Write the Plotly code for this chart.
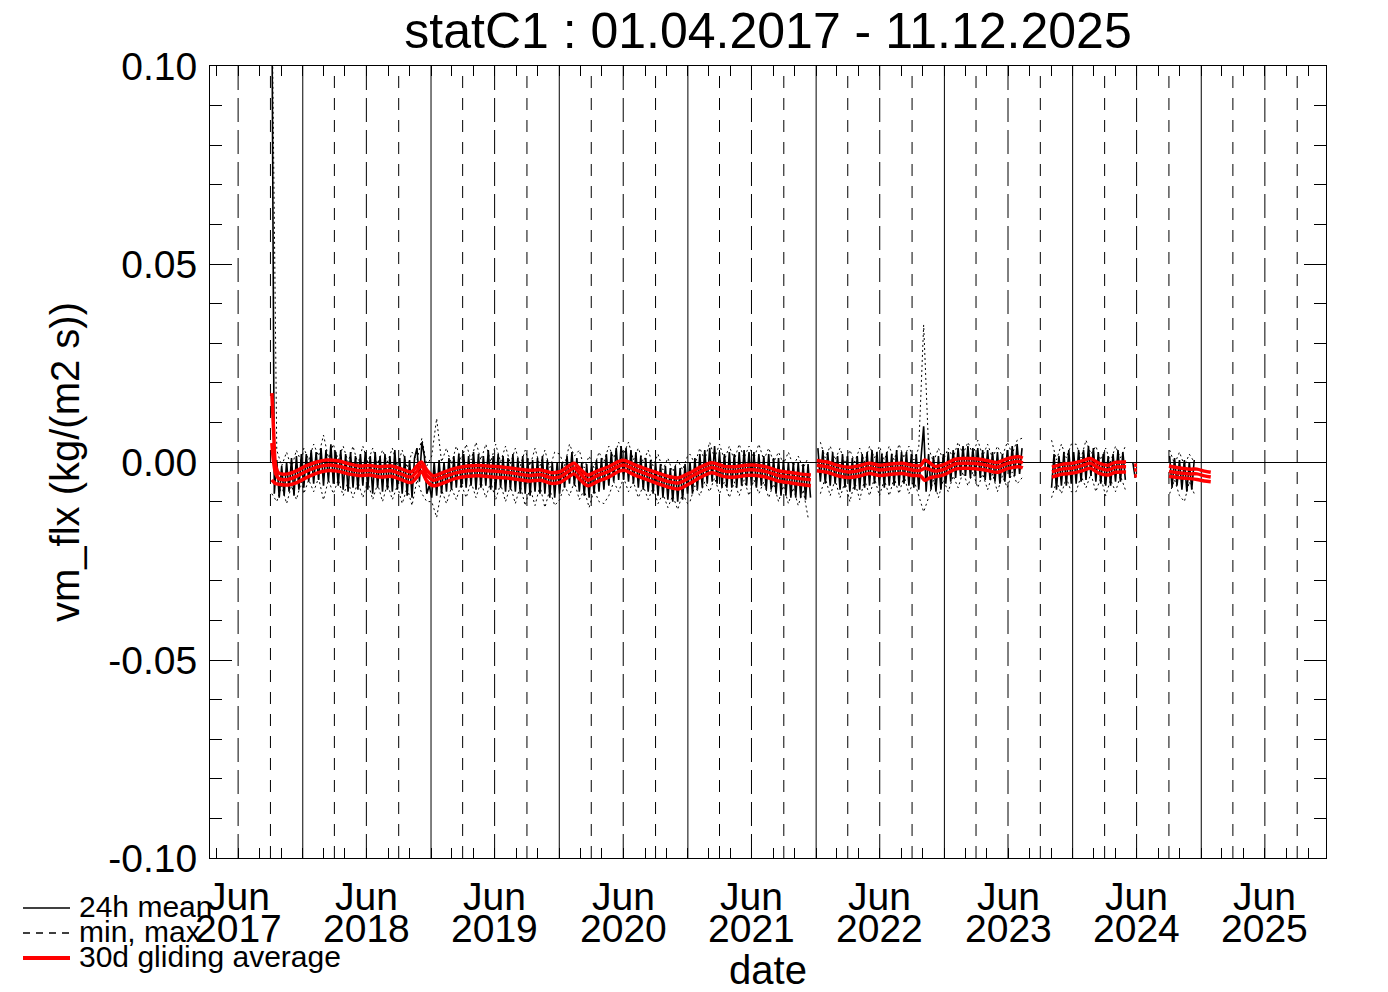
import pandas as pd
import plotly.graph_objects as go

# ---------------- data (all values in units of 1e-3 kg/(m2 s)) ----------------
# 24h mean, weekly samples (7-day steps from each block start)
mean_start = ["2017-10-05", "2018-01-04", "2019-01-03", "2020-01-02",
              "2021-01-07", "2022-01-06", "2023-01-05", "2024-01-04"]
mean_2017 = [120, -8, 0.5, -9, -1, -8.5, 0, -7.5, 1, -8.5, 1.5, -7, 2]
mean_2018 = [-6.5, 2, -5, 3, -5.5, 2.5, -4.5, 3.5, -6, 3, -5, 4.5, -5.5,
             2.5, -6, 3, -7, 2, -7.5, 2.5, -6.5, 1.5, -7, 2, -6, 2.5,
             -7, 1.5, -8, 2.5, -6.5, 1.5, -7.5, 2, -7, 1.5, -7.5, 3, -7,
             1, -8, 1.5, -8.5, 0.5, -9, 1, 3.5, -5, 5, 1.5, -8, -6]
mean_2019 = [-9, 0, -8.5, 0.5, -8, 0, -7.5, 1, -7, 1.5, -6.5, 2, -6.5,
             2, -6.5, 1.5, -6, 2.5, -7, 2, -6.5, 1.5, -6, 3, -7, 1.5,
             -7, 2, -6.5, 1.5, -7.5, 1, -7, 2, -7.5, 1, -8, 1.5, -8,
             1, -8.5, 0.5, -7.5, 1, -8, 1.5, -8, 0.5, -9, 0, -9, 0]
mean_2020 = [-8, 0, -6.5, 1.5, -5.5, 2.5, -6, 1, -7.5, 0, -8.5, -0.5, -9,
             0, -8, 0.5, -7.5, 1, -7, 2, -6, 2.5, -5, 3.5, -4.5, 4,
             -4.5, 3.5, -5, 3, -5.5, 2.5, -6.5, 1.5, -7, 1, -7.5, 0.5, -8,
             0, -8.5, -0.5, -9, -1, -9.5, -1.5, -10, -1, -10, -1.5, -9.5, -0.5, -8]
mean_2021 = [0, -8, 1, -7, 2, -6.5, 3, -5.5, 3.5, -5, 4, -5.5,
             2.5, -6.5, 2, -6.5, 2.5, -6.5, 2, -6.5, 2.5, -6, 3, -6, 2.5,
             -6, 2.5, -6.5, 2, -6, 1.5, -7, 2, -7, 1, -8, 1, -8.5, 0.5,
             -8.5, 0, -9, 0, -9, 0, -9, -0.5, -9.5, -0.5, -9, None, None]
mean_2022 = [3.5, -5, 3, -5.5, 2.5, -6, 2.5, -5.5, 1.5, -7, 2, -6.5, 1.5,
             -7.5, 1, -7, 1.5, -7, 2, -6.5, 2.5, -6, 3, -5.5, 2.5, -6,
             2, -6.5, 2.5, -6, 2, -6, 3, -6, 2.5, -5.5, 2.5, -6, 2,
             -6.5, 2, -7, 1.5, 9, -7.5, 2, -7, 1.5, -7.5, 1.5, -7, 2]
mean_2023 = [-5.5, 2.5, -5, 3, -4, 3.5, -3.5, 4, -3.5, 4, -4, 3.5, -3.5,
             3.5, -4, 3, -4.5, 3, -4.5, 2.5, -5, 2.5, -5.5, 2, -5, 3,
             -4, 4, -3.5, 4.5, -3, 3.5, None, None, None,
             None, None, None, None, None, None, None, None,
             -6.5, 2, -7, 1.5, -6, 2.5, -6, 3, -5.5]
mean_2024 = [2.5, -5.5, 3, -5, 3, -4.5, 4, -3.5, 3.5, -5, 2.5, -5.5, 2,
             -6, 1.5, -6, 2, -5, 3, -5, 2.5, -4.5, None, None, 0, -4,
             None, None, None, None, None, None, None, None, None,
             None, None, None, None, 1.5, -6.5, 1, -6, 0.5,
             -7, 0.5, -7.5, 0, -7, 0.5, None, None]

# daily max / min, 2-weekly samples
ext_start = ["2017-10-05", "2018-01-04", "2019-01-03", "2020-01-02",
             "2021-01-07", "2022-01-13", "2023-01-12", "2024-01-11"]
max_2017 = [120, 3, -1, 2.5, -1.5, 3, 0]
min_2017 = [-8, -10, -6, -10.5, -6, -9.5, -5]
max_2018 = [3.5, 0.5, 4.5, 1.5, 6.8, 1, 4.5, 0.5, 4, 0, 4, -0.5, 4, 0, 3.5,
            -0.5, 3, 0, 3.5, -1, 3, -1.5, 2.5, 0.5, 6, -1]
min_2018 = [-8, -4.5, -7.5, -4, -9.6, -4.5, -8, -4.5, -8.5, -5, -9, -5, -9,
            -5, -9.5, -5.5, -10, -5.5, -9.5, -6, -10.5, -6.5, -11, -4.5, -8, -10]
max_2019 = [1.5, 11, 0, 3.5, -0.5, 4, 0.5, 4.5, 0.5, 5, 0.5, 4.5, 0, 4.5, 0,
            4, -0.5, 3.5, -1, 3, -1, 3.5, -1, 3, -1.5, 2.5]
min_2019 = [-10, -14, -7, -10.5, -6.5, -9.5, -5.5, -9, -5, -9, -5, -9, -5,
            -9.5, -5.5, -10, -6, -10.5, -6, -11, -6.5, -11, -6, -11.5, -7, -11]
max_2020 = [2, -1, 4.5, 1.5, 3, -1.5, 1.5, -1.5, 2.5, 0, 4, 1, 5, 2, 5, 0.5,
            3.5, 0, 3, -1, 2, -2, 1, -2.5, 0.5, -2, 1.5]
min_2020 = [-9.5, -6, -8.5, -5, -9.5, -7, -11.5, -7, -10, -10.5, -8.5, -5,
            -7.5, -4, -7.5, -5, -9, -6, -9.5, -6.5, -10.5, -8, -11.5, -8.5,
            -12, -8, -10.5]
max_2021 = [2, -0.5, 3.5, 0.5, 5, 1, 4.5, 0.5, 4, 0.5, 4.5, 1, 4, 1, 4.5,
            0.5, 3.5, 0, 2.5, -0.5, 2.5, -1, 1.5, -1.5, 1, None]
min_2021 = [-10, -6, -8.5, -5, -7.5, -4, -8, -5, -9, -5, -8.5, -4.5, -8.5,
            -4.5, -8, -5, -9, -5.5, -10, -6, -10.5, -6.5, -11, -7, -14, None]
max_2022 = [5, 1, 4, 0.5, 3.5, -0.5, 3, 0, 3.5, 0, 4, 1, 4, 0.5, 4, 0.5, 4.5,
            1, 4, 0.5, 3.5, 34.6, 3.5, 0, 3.5, 0.5]
min_2022 = [-8, -4, -8.5, -4.5, -9, -5, -10, -5, -9.5, -4.5, -8.5, -4, -8.5,
            -4.5, -8.5, -4, -8, -3.5, -8, -4.5, -8.5, -12.6, -9, -4.5, -9, -4.5]
max_2023 = [3.5, 1, 5, 2, 5, 2, 5.5, 1.5, 4.5, 1, 4, 1.5, 5, 2, 5.5, 6,
            None, None, None, None, None, 5.5, 0.5, 4.5, 1, 4.5]
min_2023 = [-7.5, -3.5, -6.5, -2.5, -6, -2.5, -6.5, -3, -7, -3, -7.5, -3.5,
            -6.5, -2.5, -5.5, -4, None, None, None, None, None, -9, -5, -8, -4, -7.5]
max_2024 = [4.5, 1, 5.5, 2, 4, 0.5, 3.5, 0, 4, 1, 4, None, 0.5,
            None, None, None, None, None, None, 3, -0.5, 2.5, -1, 2, 0, None]
min_2024 = [-7.5, -3.5, -6.5, -3, -7.5, -4, -8.5, -4.5, -7.5, -3.5, -7, None, -5,
            None, None, None, None, None, None, -8, -4.5, -8.5, -10, -5, -8, None]

# 30-day gliding averages (of daily max, mean and min)
red_dates = [
    "2017-10-05", "2017-10-10", "2017-10-16", "2017-10-25", "2017-11-20", "2017-12-15",
    "2018-01-10", "2018-02-10", "2018-03-10", "2018-04-10", "2018-05-10", "2018-06-10",
    "2018-07-10", "2018-08-10", "2018-09-10", "2018-10-10", "2018-11-05", "2018-11-22",
    "2018-12-05", "2018-12-20",
    "2019-01-08", "2019-02-05", "2019-03-10", "2019-04-15", "2019-05-20", "2019-06-25",
    "2019-08-01", "2019-09-05", "2019-10-10", "2019-11-10", "2019-12-10",
    "2020-01-05", "2020-01-28", "2020-02-12", "2020-03-01", "2020-03-22", "2020-04-20",
    "2020-05-20", "2020-06-20", "2020-07-05", "2020-08-05", "2020-09-05", "2020-10-05",
    "2020-11-05", "2020-12-05",
    "2021-01-05", "2021-02-05", "2021-03-10", "2021-04-15", "2021-05-15", "2021-06-15",
    "2021-07-15", "2021-08-15", "2021-09-15", "2021-10-15", "2021-11-15", "2021-12-17",
    "2021-12-26",
    "2022-01-03", "2022-02-01", "2022-03-01", "2022-04-01", "2022-05-01", "2022-06-01",
    "2022-07-01", "2022-08-01", "2022-09-01", "2022-10-01", "2022-10-25", "2022-11-06",
    "2022-11-20", "2022-12-05",
    "2023-01-01", "2023-02-01", "2023-03-01", "2023-04-01", "2023-05-01", "2023-06-01",
    "2023-07-01", "2023-08-01", "2023-08-12", "2023-08-20",
    "2023-11-03", "2023-12-01",
    "2024-01-01", "2024-02-01", "2024-02-20", "2024-03-15", "2024-04-10", "2024-05-01",
    "2024-06-01", "2024-06-10", "2024-06-24", "2024-07-02", "2024-07-10",
    "2024-10-01", "2024-11-01", "2024-12-01", "2024-12-20", "2025-01-10", "2025-01-28"]
red_max_avg = [
    17.4, 8, -1, -2.8, -3, -2.2,
    -1, 0, 0.5, 0.3, -0.4, -1, -0.9, -1.2, -1, -1.8, -2.5, -1, 0, -2,
    -3.5, -2.6, -1.6, -1, -0.9, -1.1, -1.4, -1.8, -2.1, -2, -2.7,
    -2.4, -1, -0.3, -1.8, -3.3, -2.2, -1.2, 0.2, 0.4, -0.8, -1.8, -2.7, -3.6, -4,
    -2.8, -1.3, -0.2, -1.1, -1.2, -0.8, -0.8, -1.3, -2.2, -2.6, -3, -3.3, None,
    0.4, 0, -0.8, -1.3, -1, -0.3, -0.8, -0.5, -0.3, -0.8, -0.9, 0.5, -0.2, -1.1,
    -0.6, 0.7, 0.9, 0.8, 0.4, -0.1, 0.9, 1.3, 1, None,
    -1.3, -0.6,
    -0.3, 0.4, 0.9, -0.3, -0.8, -0.1, 0, None, -0.8, -0.8, None,
    -1, -1.5, -1.8, -1.8, -2.3, -2.6]
red_mean_avg = [
    4.8, 0, -3, -4.2, -4.4, -3.6,
    -2.4, -1.3, -0.8, -1, -1.7, -2.2, -2.1, -2.4, -2.2, -3.1, -3.8, -2.3, -1, -3.3,
    -4.6, -3.8, -2.8, -2.2, -2.1, -2.3, -2.6, -3, -3.4, -3.2, -4,
    -3.7, -2.3, -1.5, -3, -4.6, -3.4, -2.4, -1, -0.8, -2, -3, -4, -4.9, -5.3,
    -4, -2.5, -1.4, -2.3, -2.4, -2, -2, -2.5, -3.4, -3.8, -4.2, -4.5, None,
    -0.8, -1.2, -2, -2.5, -2.2, -1.5, -2, -1.7, -1.5, -2, -2.1, -1.6, -1.9, -2.3,
    -1.8, -0.5, -0.3, -0.4, -0.8, -1.3, -0.3, 0.1, -0.2, None,
    -2.5, -1.8,
    -1.5, -0.8, -0.3, -1.5, -2, -1.3, -1.2, None, -2, -2, None,
    -2.4, -2.8, -3, -3, -3.5, -3.8]
red_min_avg = [
    -4.5, -5, -5.5, -5.6, -5.8, -5.2,
    -4, -2.8, -2.2, -2.3, -3, -3.4, -3.3, -3.8, -3.6, -4.5, -5.2, -3.8, -2.4, -4.8,
    -6, -5.3, -4.2, -3.6, -3.5, -3.8, -4, -4.4, -4.8, -4.6, -5.4,
    -5.1, -3.7, -3, -4.5, -6, -4.9, -3.8, -2.3, -2.1, -3.4, -4.4, -5.4, -6.3, -6.8,
    -5.5, -3.9, -2.7, -3.7, -3.8, -3.4, -3.4, -3.9, -4.8, -5.2, -5.6, -6, None,
    -2.2, -2.6, -3.4, -3.9, -3.6, -2.9, -3.4, -3.1, -2.9, -3.4, -3.5, -4.6, -4, -3.7,
    -3.2, -1.8, -1.6, -1.7, -2.1, -2.6, -1.6, -1.2, -1.5, None,
    -3.8, -3.1,
    -2.8, -2.1, -1.6, -2.8, -3.3, -2.6, -2.5, None, -3.5, -3.5, None,
    -3.6, -4, -4.2, -4.4, -4.8, -5]

tick_years = [2017, 2018, 2019, 2020, 2021, 2022, 2023, 2024, 2025]
y_tickvals = [-0.10, -0.05, 0.0, 0.05, 0.10]
y_ticktext = ["-0.10", "-0.05", "0.00", "0.05", "0.10"]
x_range = ["2017-04-12", "2025-12-22"]
SCALE = 1e-3


def build(starts, blocks, step):
    xs, ys = [], []
    for s, vals in zip(starts, blocks):
        d = pd.date_range(s, periods=len(vals), freq=step)
        xs += list(d)
        ys += [None if v is None else v * SCALE for v in vals]
    return xs, ys


mx, my = build(mean_start, [mean_2017, mean_2018, mean_2019, mean_2020,
                            mean_2021, mean_2022, mean_2023, mean_2024], "7D")
ax_, ay_ = build(ext_start, [max_2017, max_2018, max_2019, max_2020,
                             max_2021, max_2022, max_2023, max_2024], "14D")
nx_, ny_ = build(ext_start, [min_2017, min_2018, min_2019, min_2020,
                             min_2021, min_2022, min_2023, min_2024], "14D")
rd = pd.to_datetime(red_dates)


def sc(lst):
    return [None if v is None else v * SCALE for v in lst]


FONT = "Liberation Sans, Arial, Helvetica, sans-serif"
fig = go.Figure()
fig.add_trace(go.Scatter(x=ax_, y=ay_, mode="lines", name="max",
                         line=dict(color="black", width=1, dash="2px,3px")))
fig.add_trace(go.Scatter(x=nx_, y=ny_, mode="lines", name="min",
                         line=dict(color="black", width=1, dash="2px,3px")))
fig.add_trace(go.Scatter(x=mx, y=my, mode="lines", name="24h mean",
                         line=dict(color="black", width=1.6)))
for arr in (red_max_avg, red_mean_avg, red_min_avg):
    fig.add_trace(go.Scatter(x=rd, y=sc(arr), mode="lines",
                             line=dict(color="#ff0000", width=3.5,
                                       shape="spline", smoothing=0.8)))

# vertical reference lines: Jan 1 solid, Jul 1 long dash, Apr/Oct 1 short dash
lo, hi = pd.Timestamp(x_range[0]), pd.Timestamp(x_range[1])
shapes = []
for yr in range(2017, 2026):
    for md, dash in (("01-01", "solid"), ("04-01", "12px,10px"),
                     ("07-01", "24px,8px"), ("10-01", "12px,10px")):
        d = pd.Timestamp(f"{yr}-{md}")
        if lo < d < hi:
            shapes.append(dict(type="line", xref="x", yref="paper", x0=d, x1=d,
                               y0=0, y1=1, layer="below",
                               line=dict(color="black", width=1, dash=dash)))


def px_x(p):
    return (p - 210) / 1116.0


def px_y(p):
    return (858 - p) / 792.0


# legend drawn below the plot (IDL-style)
legend_items = [("24h mean", "solid", 1.3, "black", 908),
                ("min, max", "7px,6px", 1.3, "black", 933),
                ("30d gliding average", "solid", 4, "#ff0000", 958)]
annotations = []
for label, dash, w, col, py in legend_items:
    shapes.append(dict(type="line", xref="paper", yref="paper",
                       x0=px_x(23), x1=px_x(70), y0=px_y(py), y1=px_y(py),
                       line=dict(color=col, width=w, dash=dash)))
    annotations.append(dict(text=label, xref="paper", yref="paper",
                            x=px_x(77), y=px_y(py - 2), xanchor="left",
                            yanchor="middle", showarrow=False,
                            font=dict(size=30, family=FONT, color="black")))

# x tick labels ("Jun" / year) at the Jul-1 positions
for yr in tick_years:
    xd = f"{yr}-07-01"
    annotations.append(dict(text="Jun", x=xd, xref="x", y=0, yref="paper",
                            yanchor="middle", yshift=-38, showarrow=False,
                            font=dict(size=39, family=FONT, color="black")))
    annotations.append(dict(text=str(yr), x=xd, xref="x", y=0, yref="paper",
                            yanchor="middle", yshift=-70, showarrow=False,
                            font=dict(size=39, family=FONT, color="black")))

fig.update_layout(
    width=1388, height=992,
    margin=dict(l=210, r=62, t=66, b=134, autoexpand=False),
    paper_bgcolor="white", plot_bgcolor="white",
    font=dict(family=FONT, color="black", size=39),
    showlegend=False,
    title=dict(text="statC1 : 01.04.2017 - 11.12.2025", x=0.5, xref="paper",
               xanchor="center", y=1 - 30 / 992, yref="container",
               yanchor="middle", font=dict(size=50, family=FONT, color="black")),
    shapes=shapes, annotations=annotations,
    xaxis=dict(type="date", range=x_range, showgrid=False, zeroline=False,
               showline=True, linecolor="black", linewidth=1, mirror="allticks",
               ticks="inside", ticklen=10, tickcolor="black",
               tickvals=[f"{y}-07-01" for y in tick_years], showticklabels=False,
               minor=dict(dtick="M2", tick0="2017-01-01", ticks="inside",
                          ticklen=10, tickcolor="black", showgrid=False),
               title=dict(text="date", standoff=98,
                          font=dict(size=40, family=FONT, color="black")),
               automargin=False),
    yaxis=dict(range=[-0.1, 0.1], showgrid=False, zeroline=True,
               zerolinecolor="black", zerolinewidth=1,
               showline=True, linecolor="black", linewidth=1, mirror="allticks",
               ticks="inside", ticklen=22, tickcolor="black",
               tickvals=y_tickvals, ticktext=y_ticktext, ticklabelstandoff=4,
               tickfont=dict(size=39, family=FONT, color="black"),
               minor=dict(dtick=0.01, tick0=0, ticks="inside", ticklen=12,
                          tickcolor="black", showgrid=False),
               title=dict(text="vm_flx (kg/(m2 s))", standoff=16,
                          font=dict(size=40, family=FONT, color="black")),
               automargin=False),
)

fig.write_html("out.html", config={"displayModeBar": False},
               post_script="document.body.style.margin='0px';")
